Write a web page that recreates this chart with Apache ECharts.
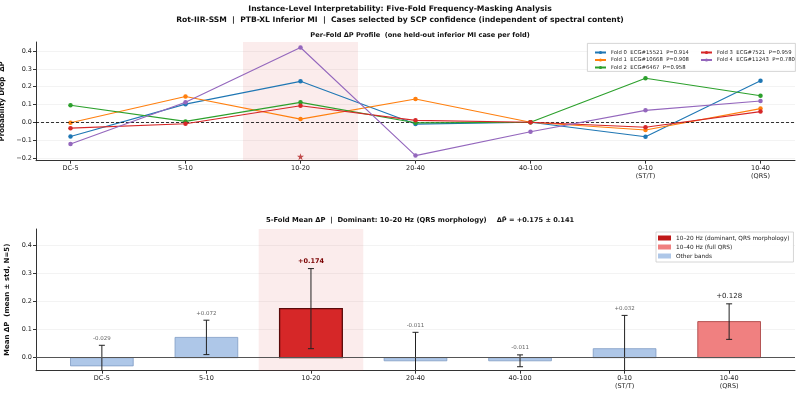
<!DOCTYPE html>
<html><head><meta charset="utf-8">
<script src="https://cdn.jsdelivr.net/npm/echarts@6/dist/echarts.min.js"></script>
<style>html,body{margin:0;padding:0;background:#fff}#c{width:800px;height:394px}</style>
</head><body><div id="c"></div>
<script>
const categories = ['DC-5','5-10','10-20','20-40','40-100','0-10\n(ST/T)','10-40\n(QRS)'];
const foldNames = ['Fold 0  ECG#15521  P=0.914','Fold 1  ECG#10668  P=0.908','Fold 2  ECG#6467  P=0.958','Fold 3  ECG#7521  P=0.959','Fold 4  ECG#11243  P=0.780'];
const fold0 = [-0.080, 0.102, 0.230, -0.010, 0.000, -0.081, 0.234];
const fold1 = [-0.003, 0.145, 0.018, 0.131, 0.000, -0.043, 0.077];
const fold2 = [0.096, 0.005, 0.112, -0.003, 0.000, 0.247, 0.149];
const fold3 = [-0.033, -0.008, 0.093, 0.011, 0.000, -0.028, 0.060];
const fold4 = [-0.122, 0.113, 0.420, -0.187, -0.053, 0.067, 0.120];
const meanDP = [-0.029, 0.072, 0.174, -0.011, -0.011, 0.032, 0.128];
const stdDP = [0.073, 0.061, 0.142, 0.101, 0.021, 0.118, 0.063];
const starPoint = [2, -0.193];
const dominantIdx = 2, fullQrsIdx = 6;
const topYTicks = [-0.2,-0.1,0,0.1,0.2,0.3,0.4];
const botYTicks = [0,0.1,0.2,0.3,0.4];

const folds = [fold0, fold1, fold2, fold3, fold4];
const foldColors = ['#1f77b4','#ff7f0e','#2ca02c','#d62728','#9467bd'];
const FONT = 'DejaVu Sans';
const fmtY = v => (Math.abs(v) < 1e-9 ? '0.0' : v.toFixed(1).replace('-', '\u2212'));
const idx = categories.map((_, i) => i);

function xAxisCfg(gridIndex, min, max) {
  return {
    type: 'value', gridIndex, min, max,
    axisLine: { show: true, onZero: false, lineStyle: { color: '#333', width: 1 } },
    axisTick: { show: true, customValues: idx, length: 3, lineStyle: { color: '#333' } },
    axisLabel: { customValues: idx, formatter: v => categories[Math.round(v)], fontFamily: FONT, fontSize: 6.5, color: '#222', lineHeight: 8, margin: 4 },
    splitLine: { show: false }
  };
}
function yAxisCfg(gridIndex, min, max, ticks, name) {
  return {
    type: 'value', gridIndex, min, max,
    name, nameLocation: 'middle', nameGap: 20, nameRotate: 90,
    nameTextStyle: { fontFamily: FONT, fontSize: 7, fontWeight: 'bold', color: '#111' },
    axisLine: { show: true, onZero: false, lineStyle: { color: '#333', width: 1 } },
    axisTick: { show: true, customValues: ticks, length: 3, lineStyle: { color: '#333' } },
    axisLabel: { customValues: ticks, formatter: fmtY, fontFamily: FONT, fontSize: 6.5, color: '#222', margin: 4 },
    splitLine: { show: true, lineStyle: { color: '#f0f0f0', width: 0.8 } }
  };
}

const series = [];
folds.forEach((f, k) => {
  series.push({
    name: foldNames[k], type: 'line', xAxisIndex: 0, yAxisIndex: 0,
    data: f.map((v, i) => [i, v]),
    symbol: 'circle', symbolSize: 4.5,
    lineStyle: { width: 1.1, color: foldColors[k] },
    itemStyle: { color: foldColors[k] },
    z: 3 + k,
    markArea: k === 0 ? { silent: true, itemStyle: { color: 'rgba(214,39,40,0.09)' }, data: [[{ xAxis: 1.5 }, { xAxis: 2.5 }]] } : undefined,
    markLine: k === 0 ? { silent: true, symbol: 'none', label: { show: false }, lineStyle: { color: '#000', type: [3, 2], width: 0.8 }, data: [{ yAxis: 0 }] } : undefined
  });
});
series.push({
  type: 'scatter', xAxisIndex: 0, yAxisIndex: 0, data: [starPoint],
  symbol: 'path://M50,0 L61,35 L98,35 L68,57 L79,91 L50,70 L21,91 L32,57 L2,35 L39,35 Z',
  symbolSize: 7, itemStyle: { color: '#b22222' }, z: 8
});

const barFill = i => i === dominantIdx ? '#d62728' : (i === fullQrsIdx ? '#f08080' : '#aec7e8');
const barEdge = i => i === dominantIdx ? '#5a0a0a' : (i === fullQrsIdx ? '#a33a3a' : '#7f9cc4');
const fmtMean = v => (v >= 0 ? '+' : '') + v.toFixed(3);

series.push({
  type: 'custom', xAxisIndex: 1, yAxisIndex: 1, clip: true,
  data: meanDP.map((m, i) => [i, m, stdDP[i]]),
  markArea: { silent: true, itemStyle: { color: 'rgba(214,39,40,0.09)' }, data: [[{ xAxis: 1.5 }, { xAxis: 2.5 }]] },
  markLine: { silent: true, symbol: 'none', label: { show: false }, lineStyle: { color: '#555', type: 'solid', width: 1 }, data: [{ yAxis: 0 }] },
  renderItem: (params, api) => {
    const i = api.value(0), m = api.value(1), s = api.value(2);
    const a = api.coord([i - 0.3, m]), b = api.coord([i + 0.3, 0]);
    const top = api.coord([i, m + s]), bot = api.coord([i, m - s]);
    const cw = 3;
    const isDom = i === dominantIdx, isQ = i === fullQrsIdx;
    return {
      type: 'group',
      children: [
        { type: 'rect', shape: { x: Math.min(a[0], b[0]), y: Math.min(a[1], b[1]), width: Math.abs(b[0] - a[0]), height: Math.abs(b[1] - a[1]) },
          style: { fill: barFill(i), stroke: barEdge(i), lineWidth: isDom ? 1.3 : 0.8 } },
        { type: 'line', shape: { x1: top[0], y1: top[1], x2: bot[0], y2: bot[1] }, style: { stroke: '#222', lineWidth: 1 } },
        { type: 'line', shape: { x1: top[0] - cw, y1: top[1], x2: top[0] + cw, y2: top[1] }, style: { stroke: '#222', lineWidth: 1 } },
        { type: 'line', shape: { x1: bot[0] - cw, y1: bot[1], x2: bot[0] + cw, y2: bot[1] }, style: { stroke: '#222', lineWidth: 1 } },
        { type: 'text', x: top[0], y: top[1] - 4,
          style: { text: fmtMean(m), align: 'center', verticalAlign: 'bottom',
            font: (isDom ? 'bold 6.5px ' : (isQ ? '7px ' : '5.5px ')) + FONT,
            fill: isDom ? '#7a0000' : (isQ ? '#222' : '#666') } }
      ]
    };
  },
  z: 3
});
const legendBars = [['10\u201320 Hz (dominant, QRS morphology)', '#c01818'], ['10\u201340 Hz (full QRS)', '#f08080'], ['Other bands', '#aec7e8']];
legendBars.forEach(([n, c]) => series.push({ name: n, type: 'bar', xAxisIndex: 1, yAxisIndex: 1, data: [], itemStyle: { color: c } }));

const option = {
  animation: false,
  backgroundColor: '#fff',
  title: [
    { text: 'Instance-Level Interpretability: Five-Fold Frequency-Masking Analysis', left: 'center', top: 0, textStyle: { fontFamily: FONT, fontSize: 7.7, fontWeight: 'bold', color: '#111' } },
    { text: 'Rot-IIR-SSM  |  PTB-XL Inferior MI  |  Cases selected by SCP confidence (independent of spectral content)', left: 'center', top: 11, textStyle: { fontFamily: FONT, fontSize: 7.6, fontWeight: 'bold', color: '#111' } },
    { text: 'Per-Fold \u0394P Profile  (one held-out inferior MI case per fold)', left: 415, textAlign: 'center', top: 27, textStyle: { fontFamily: FONT, fontSize: 6.6, fontWeight: 'bold', color: '#111' } },
    { text: '{b|5-Fold Mean \u0394P  |  Dominant: 10\u201320 Hz (QRS morphology)}  {n|\u0394P\u0304 = +0.175 \u00b1 0.141}', left: 415, textAlign: 'center', top: 206,
      textStyle: { rich: { b: { fontFamily: FONT, fontSize: 6.8, fontWeight: 'bold', color: '#111' }, n: { fontFamily: FONT, fontSize: 6.6, color: '#111' } } } }
  ],
  grid: [
    { left: 36, right: 5, top: 42, height: 118.7, containLabel: false, outerBoundsMode: 'none' },
    { left: 36, right: 5, top: 229, height: 141.7, containLabel: false, outerBoundsMode: 'none' }
  ],
  xAxis: [xAxisCfg(0, -0.3, 6.3), xAxisCfg(1, -0.63, 6.63)],
  yAxis: [
    yAxisCfg(0, -0.2157, 0.451, topYTicks, 'Probability Drop  \u0394P'),
    yAxisCfg(1, -0.0461, 0.4564, botYTicks, 'Mean \u0394P  (mean \u00b1 std, N=5)')
  ],
  legend: [
    { data: foldNames.slice(0, 3), orient: 'vertical', left: 589, top: 45, itemGap: 2.5, itemWidth: 11, itemHeight: 4, z: 20,
      textStyle: { fontFamily: FONT, fontSize: 5.3, color: '#222' }, selectedMode: false },
    { data: foldNames.slice(3), orient: 'vertical', left: 695, top: 45, itemGap: 2.5, itemWidth: 11, itemHeight: 4, z: 20,
      textStyle: { fontFamily: FONT, fontSize: 5.3, color: '#222' }, selectedMode: false },
    { data: legendBars.map(d => ({ name: d[0], icon: 'rect' })), orient: 'vertical', left: 656, top: 232, itemGap: 3, itemWidth: 13, itemHeight: 5, z: 20,
      textStyle: { fontFamily: FONT, fontSize: 5.8, color: '#222' }, selectedMode: false,
      backgroundColor: 'rgba(255,255,255,0.85)', borderColor: '#ccc', borderWidth: 0.8, padding: [3, 4, 3, 2] }
  ],
  graphic: [
    { type: 'rect', left: 587, top: 43, shape: { width: 208, height: 28 }, style: { fill: 'rgba(255,255,255,0.85)', stroke: '#ccc', lineWidth: 0.8 }, z: 15 }
  ],
  series
};
echarts.init(document.getElementById('c'), null, { renderer: 'canvas' }).setOption(option);
</script>
</body></html>
